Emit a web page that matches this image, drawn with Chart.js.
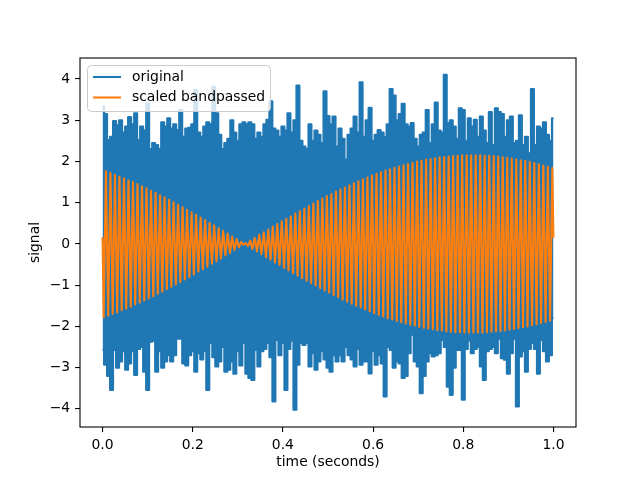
<!DOCTYPE html>
<html>
<head>
<meta charset="utf-8">
<script src="https://cdn.jsdelivr.net/npm/chart.js@4.4.1/dist/chart.umd.min.js"></script>
<style>
  html, body { margin: 0; padding: 0; background: #fff; }
  canvas { display: block; }
</style>
</head>
<body>
<canvas id="myChart" width="640" height="480"></canvas>
<script>
// Tick labels
const xTicks = [0.0, 0.2, 0.4, 0.6, 0.8, 1.0];
const yTicks = [-4, -3, -2, -1, 0, 1, 2, 3, 4];

// Original signal: upper and lower swing, one pair per 1/150 s
const originalHigh = [
  3.33, 3.15, 2.52, 2.6, 2.98, 2.88, 3.0, 2.7, 2.85, 3.08,
  2.9, 3.17, 2.52, 2.85, 2.75, 3.41, 2.3, 2.45, 2.4, 2.3,
  2.95, 2.85, 3.05, 2.8, 2.9, 2.76, 3.25, 2.6, 2.8, 2.82,
  2.9, 3.73, 2.7, 2.6, 2.85, 2.95, 2.9, 3.81, 3.17, 2.65,
  2.3, 2.45, 2.55, 3.0, 2.7, 2.5, 2.9, 2.95, 2.9, 2.95,
  2.9, 2.55, 2.7, 2.6, 2.9, 3.01, 3.46, 2.8, 2.75, 2.6,
  2.85, 2.75, 3.17, 2.7, 3.0, 3.84, 2.5, 2.36, 2.3, 2.9,
  2.5, 2.75, 2.65, 2.45, 3.7, 3.1, 2.9, 3.09, 2.36, 2.8,
  2.55, 2.05, 2.65, 2.8, 3.09, 2.7, 3.92, 2.6, 3.0, 3.3,
  2.5, 2.65, 2.76, 2.7, 2.6, 2.9, 3.76, 3.6, 3.0, 3.15,
  3.4, 2.9, 2.85, 2.93, 2.55, 2.36, 2.65, 2.7, 3.25, 2.45,
  2.9, 3.43, 2.75, 2.7, 4.1, 2.93, 3.0, 2.85, 2.55, 3.29,
  3.25, 2.5, 3.05, 2.85, 3.01, 2.6, 3.09, 2.75, 2.45, 3.2,
  2.4, 3.29, 3.2, 3.15, 2.6, 3.0, 3.09, 2.45, 2.5, 3.12,
  2.4, 2.6, 2.2, 3.76, 2.4, 2.85, 2.8, 2.95, 2.65, 2.5, 3.05
];
const originalLow = [
  -2.57, -2.93, -3.2, -3.54, -2.57, -3.0, -2.85, -2.6, -3.05, -2.9,
  -2.6, -3.18, -2.55, -2.5, -3.1, -3.54, -2.37, -2.35, -3.1, -2.6,
  -3.0, -2.85, -2.7, -2.85, -2.7, -2.3, -2.3, -2.9, -2.95, -2.7,
  -2.6, -3.1, -2.65, -2.8, -2.6, -3.54, -2.4, -2.75, -2.97, -2.85,
  -2.5, -3.1, -3.05, -2.85, -3.15, -2.6, -2.95, -2.4, -3.15, -3.25,
  -3.3, -2.57, -2.97, -2.6, -2.55, -2.4, -2.75, -3.82, -2.33, -2.7,
  -2.4, -3.54, -2.55, -2.35, -4.02, -2.93, -2.4, -2.45, -2.4, -2.97,
  -2.65, -3.05, -2.85, -2.6, -2.8, -3.0, -3.1, -2.7, -2.85, -2.7,
  -2.85, -2.5, -2.7, -2.8, -2.97, -2.55, -2.93, -2.85, -2.85, -3.14,
  -2.6, -2.93, -2.7, -2.9, -3.7, -2.5, -2.57, -3.0, -2.85, -2.9,
  -3.25, -3.2, -2.65, -2.2, -2.85, -2.97, -3.62, -3.2, -2.85, -2.65,
  -2.73, -2.7, -2.65, -2.33, -2.5, -3.46, -3.66, -3.0, -2.57, -2.57,
  -3.78, -2.55, -2.35, -2.65, -2.55, -2.5, -2.97, -3.3, -2.6, -2.55,
  -2.5, -2.65, -2.3, -2.77, -2.81, -3.15, -2.65, -2.3, -3.94, -2.73,
  -2.6, -3.1, -2.55, -2.4, -2.55, -3.15, -2.33, -2.6, -2.85, -2.7, -1.8
];

// Scaled bandpassed signal: start value, swing peaks every 5 ms from 2.5 ms, end value
const bandpassed = [
  0.17,
  -1.78, 1.76, -1.74, 1.72, -1.70, 1.68, -1.66, 1.63, -1.61, 1.59,
  -1.57, 1.54, -1.52, 1.50, -1.47, 1.45, -1.42, 1.40, -1.37, 1.35,
  -1.32, 1.29, -1.27, 1.24, -1.21, 1.18, -1.16, 1.13, -1.10, 1.07,
  -1.04, 1.01, -0.98, 0.95, -0.92, 0.89, -0.86, 0.83, -0.80, 0.77,
  -0.74, 0.71, -0.67, 0.64, -0.61, 0.58, -0.55, 0.51, -0.48, 0.45,
  -0.42, 0.38, -0.35, 0.32, -0.28, 0.25, -0.22, 0.18, -0.15, 0.12,
  -0.08, 0.05, -0.02,
  0.02, -0.05, 0.08, -0.12, 0.15, -0.18, 0.22,
  -0.25, 0.28, -0.32, 0.35, -0.38, 0.42, -0.45, 0.48, -0.51, 0.55,
  -0.58, 0.61, -0.64, 0.67, -0.71, 0.74, -0.77, 0.80, -0.83, 0.86,
  -0.89, 0.92, -0.95, 0.98, -1.01, 1.04, -1.07, 1.10, -1.13, 1.16,
  -1.18, 1.21, -1.24, 1.27, -1.29, 1.32, -1.35, 1.37, -1.40, 1.42,
  -1.45, 1.47, -1.50, 1.52, -1.54, 1.57, -1.59, 1.61, -1.63, 1.66,
  -1.68, 1.70, -1.72, 1.74, -1.76, 1.78,
  -1.80, 1.81, -1.83, 1.85, -1.87, 1.88, -1.90, 1.91, -1.93, 1.94,
  -1.96, 1.97, -1.98, 2.00, -2.01, 2.02, -2.03, 2.04, -2.05, 2.06,
  -2.07, 2.08, -2.09, 2.10, -2.10, 2.11, -2.12, 2.12, -2.13, 2.13,
  -2.14, 2.14, -2.14, 2.15, -2.15, 2.15, -2.15, 2.15, -2.15, 2.15,
  -2.15, 2.15, -2.15, 2.14, -2.14, 2.14, -2.13, 2.13, -2.12, 2.12,
  -2.11, 2.10, -2.10, 2.09, -2.08, 2.07, -2.06, 2.05, -2.04, 2.03,
  -2.02, 2.01, -2.00, 1.99, -1.97, 1.96, -1.95, 1.93, -1.92, 1.90,
  -1.89, 1.87, -1.86, 1.84,
  0.15
];

const FONT = "DejaVu Sans";
const FONT_SIZE = 13.9;
const BLUE = "#1f77b4";
const ORANGE = "#ff7f0e";

// the original signal swings so fast that it shows as a solid band:
// draw it as the area between its upper and lower swing
const swingTime = (i) => i / (originalHigh.length - 1);
const highData = originalHigh.map((v, i) => ({ x: swingTime(i), y: v }));
const lowData = originalLow.map((v, i) => ({ x: swingTime(i), y: v }));

const bandData = bandpassed.map((v, i) => {
  let t;
  if (i === 0) t = 0;
  else if (i === bandpassed.length - 1) t = 1;
  else t = 0.0025 + 0.005 * (i - 1);
  return { x: t, y: v };
});

// full box around the plot area, like matplotlib spines
const framePlugin = {
  id: "frame",
  afterDatasetsDraw(chart) {
    const { ctx, chartArea: a } = chart;
    ctx.save();
    ctx.strokeStyle = "#000";
    ctx.lineWidth = 1.1;
    ctx.strokeRect(a.left, a.top, a.right - a.left, a.bottom - a.top);
    ctx.restore();
  },
};

// legend box in the upper left corner
const legendPlugin = {
  id: "cornerLegend",
  afterDraw(chart) {
    const { ctx } = chart;
    const x = 87.5, y = 65.5, w = 183, h = 46, r = 4;
    ctx.save();
    ctx.beginPath();
    ctx.moveTo(x + r, y);
    ctx.lineTo(x + w - r, y);
    ctx.arcTo(x + w, y, x + w, y + r, r);
    ctx.lineTo(x + w, y + h - r);
    ctx.arcTo(x + w, y + h, x + w - r, y + h, r);
    ctx.lineTo(x + r, y + h);
    ctx.arcTo(x, y + h, x, y + h - r, r);
    ctx.lineTo(x, y + r);
    ctx.arcTo(x, y, x + r, y, r);
    ctx.closePath();
    ctx.fillStyle = "rgba(255,255,255,0.8)";
    ctx.fill();
    ctx.strokeStyle = "#cccccc";
    ctx.lineWidth = 1;
    ctx.stroke();

    const items = chart.data.datasets.filter((ds) => ds.label);
    const rows = [77, 97.5];
    ctx.font = FONT_SIZE + "px '" + FONT + "'";
    ctx.textBaseline = "middle";
    ctx.textAlign = "left";
    items.forEach((ds, i) => {
      ctx.strokeStyle = ds.borderColor;
      ctx.lineWidth = 2.08;
      ctx.beginPath();
      ctx.moveTo(93, rows[i]);
      ctx.lineTo(121, rows[i]);
      ctx.stroke();
      ctx.fillStyle = "#000";
      ctx.fillText(ds.label, 132, rows[i]);
    });
    ctx.restore();
  },
};

const tickFont = { family: FONT, size: FONT_SIZE };

const ctx = document.getElementById("myChart").getContext("2d");
const myChart = new Chart(ctx, {
  type: "line",
  data: {
    datasets: [
      {
        label: "original",
        data: highData,
        borderColor: BLUE,
        backgroundColor: BLUE,
        borderWidth: 2.08,
        pointRadius: 0,
        stepped: "middle",
        fill: "+1",
        order: 1,
      },
      {
        label: "",
        data: lowData,
        borderColor: BLUE,
        backgroundColor: BLUE,
        borderWidth: 2.08,
        pointRadius: 0,
        stepped: "middle",
        fill: false,
        order: 1,
      },
      {
        label: "scaled bandpassed",
        data: bandData,
        borderColor: ORANGE,
        borderWidth: 2.08,
        pointRadius: 0,
        fill: false,
        order: 0,
      },
    ],
  },
  options: {
    responsive: false,
    animation: false,
    devicePixelRatio: 1,
    events: [],
    layout: { padding: { top: 58, right: 64, left: 0, bottom: 0 } },
    elements: {
      line: { tension: 0, borderJoinStyle: "round", borderCapStyle: "butt" },
    },
    plugins: {
      legend: { display: false },
      tooltip: { enabled: false },
      filler: { propagate: false },
    },
    scales: {
      x: {
        type: "linear",
        min: -0.05,
        max: 1.05,
        afterBuildTicks: (s) => {
          s.ticks = xTicks.map((v) => ({ value: v }));
        },
        afterFit: (s) => {
          s.height = 53;
        },
        ticks: {
          callback: (v) => v.toFixed(1),
          color: "#000",
          font: tickFont,
          padding: 4.9,
          maxRotation: 0,
          autoSkip: false,
        },
        grid: {
          drawOnChartArea: false,
          drawTicks: true,
          tickLength: 4.9,
          color: "#000",
          lineWidth: 1.1,
        },
        border: { display: false },
        title: {
          display: true,
          text: "time (seconds)",
          color: "#000",
          font: tickFont,
          padding: { top: 0, bottom: 9 },
        },
      },
      y: {
        type: "linear",
        min: -4.44,
        max: 4.51,
        afterBuildTicks: (s) => {
          s.ticks = yTicks.map((v) => ({ value: v }));
        },
        afterFit: (s) => {
          s.width = 80;
        },
        ticks: {
          callback: (v) => (v < 0 ? "\u2212" + Math.abs(v) : String(v)),
          color: "#000",
          font: tickFont,
          padding: 4.9,
          autoSkip: false,
        },
        grid: {
          drawOnChartArea: false,
          drawTicks: true,
          tickLength: 4.9,
          color: "#000",
          lineWidth: 1.1,
        },
        border: { display: false },
        title: {
          display: true,
          text: "signal",
          color: "#000",
          font: tickFont,
          padding: { top: 27.5, bottom: 0 },
        },
      },
    },
  },
  plugins: [framePlugin, legendPlugin],
});
</script>
</body>
</html>
